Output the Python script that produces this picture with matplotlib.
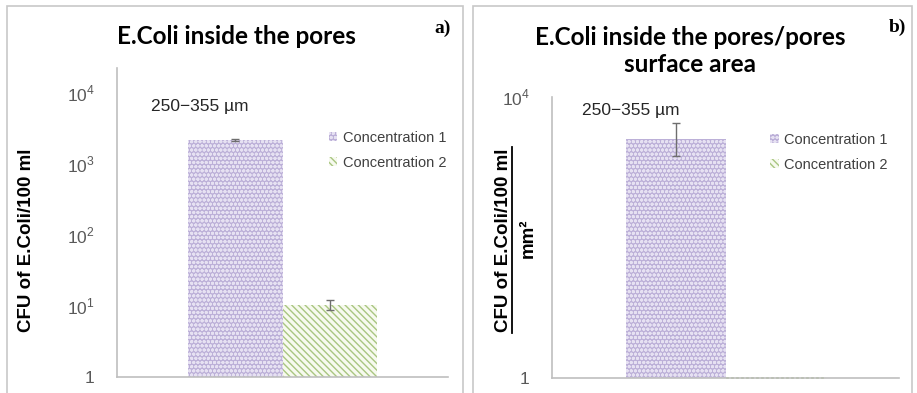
import matplotlib
matplotlib.use("Agg")
import matplotlib.pyplot as plt
from matplotlib.patches import Patch, Rectangle
from matplotlib.lines import Line2D

plt.rcParams["font.family"] = ["Liberation Sans", "DejaVu Sans"]
plt.rcParams["mathtext.fontset"] = "custom"
plt.rcParams["mathtext.rm"] = "Liberation Sans"
plt.rcParams["hatch.linewidth"] = 1.0

series = ["Concentration 1", "Concentration 2"]
size_label = "250\u2212355 \u00b5m"

# panel a: CFU inside the pores
a_values = [2150, 10.3]
a_err_lo = [60, 1.5]
a_err_hi = [60, 1.9]
a_ticks = [1, 10, 100, 1000, 10000]
a_ticklabels = ["1", "$10^{1}$", "$10^{2}$", "$10^{3}$", "$10^{4}$"]

# panel b: per pore surface area (second series below 1)
b_values = [2500, 1.0]
b_err_lo = [1050, 0]
b_err_hi = [1750, 0]
b_ticks = [1, 10000]
b_ticklabels = ["1", "$10^{4}$"]

fill1 = "#bcb0d8"
hatch1 = "#e6e1f2"
fill2 = "#f7faef"
hatch2 = "#a9c681"
grey = "#595959"
axis_col = "#bfbfbf"

W, H = 917, 393
fig = plt.figure(figsize=(W / 100, H / 100), dpi=100)


def fx(px):
    return px / W


def fy(py):
    return 1 - py / H


# panel frames
for x0, x1 in [(7, 463), (473, 912)]:
    fig.patches.append(Rectangle((fx(x0), fy(400)), fx(x1 - x0), fy(6) - fy(400),
                                 transform=fig.transFigure, fill=False,
                                 edgecolor="#c8c8c8", lw=1.2))


def draw(ax, values, lo, hi, ticks, labels, ymax, width):
    pos = [-width / 2, width / 2]
    styles = [(fill1, hatch1, "oooo"), (fill2, hatch2, "\\\\\\\\\\")]
    for i, v in enumerate(values):
        fc, hc, hp = styles[i]
        ax.bar(pos[i], v - 1, bottom=1, width=width, color=fc, edgecolor=hc,
               hatch=hp, lw=0, zorder=2)
        if hi[i] > 0:
            ax.errorbar(pos[i], v, yerr=[[lo[i]], [hi[i]]], fmt="none",
                        ecolor="#6e6e6e", elinewidth=1, capsize=3, zorder=3)
    ax.set_yscale("log")
    ax.set_ylim(1, ymax)
    ax.set_xlim(-0.5, 0.5)
    ax.set_yticks(ticks)
    ax.set_yticklabels(labels)
    ax.minorticks_off()
    ax.tick_params(axis="y", length=0, labelsize=12.5, colors=grey, pad=16)
    ax.set_xticks([])
    for s in ["top", "right"]:
        ax.spines[s].set_visible(False)
    for s in ["left", "bottom"]:
        ax.spines[s].set_color(axis_col)
        ax.spines[s].set_linewidth(1.2)
    handles = [Patch(facecolor=styles[i][0], edgecolor=styles[i][1],
                     hatch=styles[i][2], lw=0, label=series[i]) for i in range(2)]
    return handles


# panel a
axa = fig.add_axes([fx(117), fy(377), fx(448 - 117), fy(68) - fy(377)])
h = draw(axa, a_values, a_err_lo, a_err_hi, a_ticks, a_ticklabels, 10 ** 4.35, 0.284)
axa.legend(handles=h, loc="upper left", bbox_to_anchor=(0.6, 0.84), frameon=False,
           fontsize=10.5, handlelength=0.6, handleheight=0.6, handletextpad=0.4,
           labelspacing=0.75, labelcolor="#404040")
fig.text(fx(200), fy(107), size_label, ha="center", va="center", fontsize=12.5,
         color="#262626")
fig.text(fx(236), fy(37), "E.Coli inside the pores", ha="center", va="center",
         fontsize=17.5, fontweight="bold", family=["Lato", "DejaVu Sans"])
fig.text(fx(443), fy(28), "a)", ha="center", va="center", fontsize=14,
         fontweight="bold", family=["Liberation Serif"])
fig.text(fx(27), fy(240), "CFU of E.Coli/100 ml", rotation=90, ha="center",
         va="center", fontsize=13.5, fontweight="bold")

# panel b
axb = fig.add_axes([fx(552), fy(378), fx(899 - 552), fy(97) - fy(378)])
h = draw(axb, b_values, b_err_lo, b_err_hi, b_ticks, b_ticklabels, 10 ** 4, 0.288)
axb.bar(0.144, 0, bottom=1, width=0.288, fill=False, edgecolor=hatch2, lw=1.2,
        ls=(0, (1, 2)), clip_on=False, zorder=1)
axb.legend(handles=h, loc="upper left", bbox_to_anchor=(0.59, 0.92), frameon=False,
           fontsize=10.5, handlelength=0.6, handleheight=0.6, handletextpad=0.4,
           labelspacing=0.75, labelcolor="#404040")
fig.text(fx(631), fy(110), size_label, ha="center", va="center", fontsize=12.5,
         color="#262626")
fig.text(fx(690), fy(51), "E.Coli inside the pores/pores\nsurface area", ha="center",
         va="center", fontsize=17.5, fontweight="bold", linespacing=1.25,
         family=["Lato", "DejaVu Sans"])
fig.text(fx(897), fy(27), "b)", ha="center", va="center", fontsize=14,
         fontweight="bold", family=["Liberation Serif"])
fig.text(fx(503), fy(240), "CFU of E.Coli/100 ml", rotation=90, ha="center",
         va="center", fontsize=13.5, fontweight="bold")
fig.add_artist(Line2D([fx(512), fx(512)], [fy(147), fy(333)], color="black",
                      lw=1.3, transform=fig.transFigure))
fig.text(fx(528), fy(238), "mm\u00b2", rotation=90, ha="center", va="center",
         fontsize=13.5, fontweight="bold")

fig.savefig("out.png", dpi=100)
